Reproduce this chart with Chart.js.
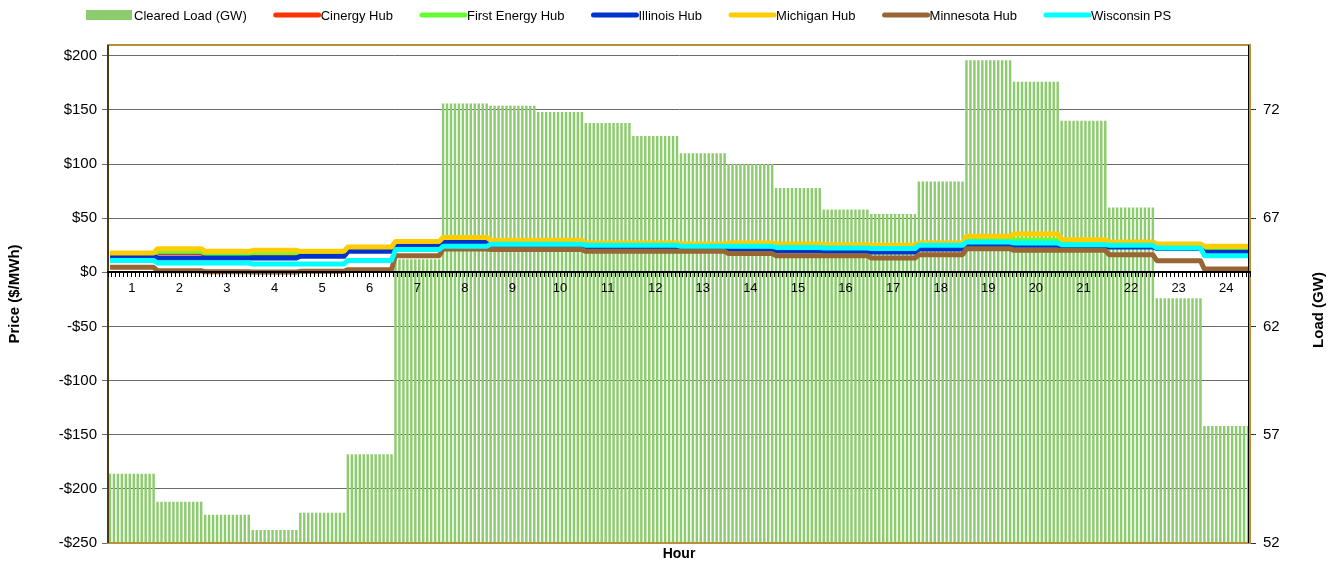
<!DOCTYPE html>
<html>
<head>
<meta charset="utf-8">
<script src="https://cdn.jsdelivr.net/npm/chart.js@4.4.0/dist/chart.umd.min.js"></script>
<style>
html, body { margin: 0; padding: 0; background: #fff; }
</style>
</head>
<body>
<canvas id="myChart" width="1335" height="565"></canvas>
<script>
// hourly values
const hours = ['1','2','3','4','5','6','7','8','9','10','11','12','13','14','15','16','17','18','19','20','21','22','23','24'];

const cleared_load = [55.2, 53.9, 53.3, 52.6, 53.4, 56.1, 65.1, 72.3, 72.2, 71.9, 71.4, 70.8, 70.0, 69.5, 68.4, 67.4, 67.2, 68.7, 74.3, 73.3, 71.5, 67.5, 63.3, 57.4];

const cinergy_hub = [15.5, 18.4, 16.5, 17.3, 16.5, 21.0, 26.0, 30.0, 27.5, 27.5, 25.0, 25.0, 24.2, 25.0, 24.2, 23.6, 23.0, 25.0, 31.0, 28.6, 27.0, 25.5, 23.8, 20.0];
const first_energy_hub = [16.5, 19.4, 17.5, 18.3, 17.5, 22.0, 27.0, 31.0, 28.5, 28.5, 26.0, 26.0, 25.2, 26.0, 25.2, 24.6, 24.0, 26.0, 32.0, 29.6, 28.0, 26.5, 24.8, 21.0];
const illinois_hub = [14.8, 13.2, 13.2, 13.2, 14.8, 19.4, 24.0, 28.0, 24.5, 23.0, 22.5, 22.5, 21.9, 20.0, 20.0, 19.4, 18.8, 21.5, 25.0, 25.0, 24.0, 23.5, 22.0, 18.5];
const michigan_hub = [17.8, 21.9, 19.4, 20.3, 19.4, 23.4, 28.6, 32.3, 29.6, 29.6, 27.0, 27.0, 26.2, 27.0, 26.2, 25.6, 25.0, 27.0, 33.3, 35.4, 30.2, 28.0, 26.2, 24.0];
const minnesota_hub = [4.6, 1.5, 0.5, 0.3, 0.9, 2.5, 15.4, 21.5, 21.0, 21.0, 19.4, 19.4, 19.4, 17.3, 15.4, 15.4, 13.2, 16.3, 21.9, 20.3, 20.3, 16.3, 10.8, 3.0];
const wisconsin_ps = [11.0, 8.6, 8.6, 7.7, 7.7, 11.0, 21.0, 24.0, 26.0, 26.0, 25.0, 25.0, 24.0, 24.0, 23.0, 22.5, 22.0, 25.0, 28.0, 27.0, 25.6, 25.0, 22.5, 15.4];

// right axis tick labels
const load_ticks = [52, 57, 62, 67, 72];

// the chart has one bar / point every 5 minutes, same value all hour
const intervals_per_hour = 12;

function per_interval(hourly) {
    const out = [];
    hourly.forEach(function(v) {
        for (let k = 0; k < intervals_per_hour; k++) out.push(v);
    });
    return out;
}

const labels_intervals = [];
hours.forEach(function(h) {
    for (let k = 0; k < intervals_per_hour; k++) labels_intervals.push(h + ':' + String(k * 5).padStart(2, '0'));
});

const FONT = '"Liberation Sans", Arial, sans-serif';

// legend drawn across the top, left to right
const topLegend = {
    id: 'topLegend',
    afterDraw(chart) {
        const ctx = chart.ctx;
        ctx.save();
        ctx.font = '13px ' + FONT;
        ctx.textBaseline = 'middle';
        ctx.fillStyle = '#000';
        let x = 86;
        const y = 15;
        chart.data.datasets.forEach(function(ds) {
            if (ds.type === 'line') {
                ctx.strokeStyle = ds.borderColor;
                ctx.lineWidth = 5;
                ctx.lineCap = 'round';
                ctx.beginPath();
                ctx.moveTo(x + 3, y);
                ctx.lineTo(x + 46, y);
                ctx.stroke();
            } else {
                ctx.fillStyle = ds.backgroundColor;
                ctx.fillRect(x, y - 5, 46, 10);
            }
            ctx.fillStyle = '#000';
            ctx.fillText(ds.label, x + 48, y + 1);
            x += 48 + ctx.measureText(ds.label).width + 26;
        });
        ctx.restore();
    }
};

// plot frame + right axis title (reads bottom to top)
const plotFrame = {
    id: 'plotFrame',
    afterDatasetsDraw(chart) {
        const a = chart.chartArea;
        const ctx = chart.ctx;
        ctx.save();
        ctx.strokeStyle = '#b8913a';
        ctx.lineWidth = 2;
        ctx.strokeRect(a.left, a.top, a.right - a.left, a.bottom - a.top);
        ctx.strokeStyle = '#000';
        ctx.lineWidth = 1;
        ctx.beginPath();
        ctx.moveTo(a.right - 1.5, a.top);
        ctx.lineTo(a.right - 1.5, a.bottom);
        ctx.stroke();
        ctx.strokeStyle = '#4a3b17';
        ctx.lineWidth = 2;
        ctx.beginPath();
        ctx.moveTo(a.left, a.top);
        ctx.lineTo(a.left, a.bottom);
        ctx.stroke();
        ctx.restore();
    },
    afterDraw(chart) {
        const ctx = chart.ctx;
        ctx.save();
        ctx.font = 'bold 15px ' + FONT;
        ctx.fillStyle = '#000';
        ctx.textAlign = 'center';
        ctx.textBaseline = 'middle';
        ctx.translate(1319, 310);
        ctx.rotate(-Math.PI / 2);
        ctx.fillText('Load (GW)', 0, 0);
        ctx.restore();
    }
};

function lineSet(label, values, color, order) {
    return {
        type: 'line',
        label: label,
        data: per_interval(values),
        borderColor: color,
        backgroundColor: color,
        borderWidth: 5,
        borderJoinStyle: 'round',
        pointRadius: 0,
        tension: 0,
        xAxisID: 'x',
        yAxisID: 'y',
        order: order
    };
}

const canvas = document.getElementById('myChart');
const ctx = canvas.getContext('2d');
const config = {
    type: 'bar',
    data: {
        labels: labels_intervals,
        datasets: [{
            type: 'bar',
            label: 'Cleared Load (GW)',
            data: per_interval(cleared_load),
            backgroundColor: '#8ccc6e',
            borderWidth: 0,
            barPercentage: 0.62,
            categoryPercentage: 1.0,
            xAxisID: 'x',
            yAxisID: 'y1',
            order: 10
        },
        lineSet('Cinergy Hub', cinergy_hub, '#ff3300', 7),
        lineSet('First Energy Hub', first_energy_hub, '#66ff33', 6),
        lineSet('Illinois Hub', illinois_hub, '#0033cc', 5),
        lineSet('Michigan Hub', michigan_hub, '#ffcc00', 4),
        lineSet('Minnesota Hub', minnesota_hub, '#996633', 3),
        lineSet('Wisconsin PS', wisconsin_ps, '#00ffff', 2)
        ]
    },
    options: {
        responsive: false,
        animation: false,
        devicePixelRatio: 1,
        layout: { padding: { top: 45, left: 0, right: 0, bottom: 0 } },
        plugins: {
            legend: { display: false },
            tooltip: { enabled: false }
        },
        scales: {
            x: {
                type: 'category',
                position: { y: 0 },
                offset: true,
                grid: { z: 1, drawOnChartArea: false, drawTicks: true, tickLength: 4, color: '#000', lineWidth: 1, offset: true },
                border: { z: 1, display: true, color: '#000', width: 2 },
                ticks: {
                    z: 1,
                    autoSkip: false,
                    maxRotation: 0,
                    minRotation: 0,
                    padding: 4,
                    labelOffset: -2,
                    color: '#000',
                    font: { family: FONT, size: 13 },
                    callback: function(value, index) {
                        return index % intervals_per_hour === 6 ? hours[Math.floor(index / intervals_per_hour)] : '';
                    }
                }
            },
            x2: {
                type: 'category',
                position: 'bottom',
                grid: { display: false },
                border: { display: false },
                ticks: { display: false },
                title: { display: true, text: 'Hour', color: '#000', font: { family: FONT, size: 14, weight: 'bold' }, padding: { top: 2, bottom: 2 } },
                afterFit: function(scale) { scale.height = 22; }
            },
            y: {
                type: 'linear',
                position: 'left',
                min: -250,
                max: 210,
                grid: { color: '#6b6b6b', lineWidth: 1, tickLength: 6, drawTicks: true },
                border: { display: true, color: '#4a3b17', width: 2 },
                ticks: {
                    stepSize: 50,
                    includeBounds: false,
                    padding: 5,
                    color: '#000',
                    font: { family: FONT, size: 15 },
                    callback: function(v) { return v < 0 ? '-$' + Math.abs(v) : '$' + v; }
                },
                title: { display: true, text: 'Price ($/MWh)', color: '#000', font: { family: FONT, size: 15, weight: 'bold' }, padding: { top: 6, bottom: 0 } },
                afterFit: function(scale) { scale.width = 108; }
            },
            y1: {
                type: 'linear',
                position: 'right',
                min: 52,
                max: 75,
                grid: { drawOnChartArea: false, drawTicks: true, tickLength: 6, color: '#333' },
                border: { display: true, color: '#000', width: 1 },
                afterBuildTicks: function(scale) {
                    scale.ticks = load_ticks.map(function(v) { return { value: v }; });
                },
                ticks: {
                    padding: 7,
                    color: '#000',
                    font: { family: FONT, size: 15 }
                },
                afterFit: function(scale) { scale.width = 85; }
            }
        }
    },
    plugins: [topLegend, plotFrame]
};
const myChart = new Chart(ctx, config);
</script>
</body>
</html>
